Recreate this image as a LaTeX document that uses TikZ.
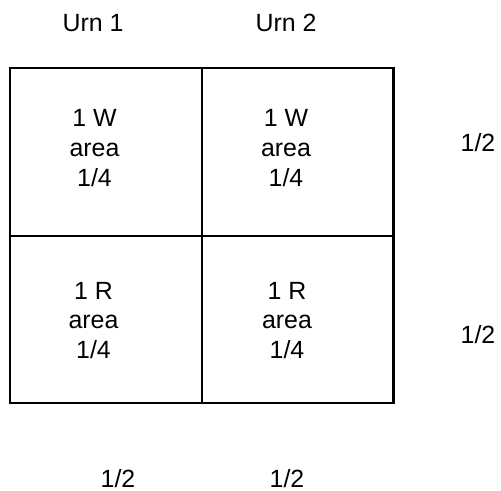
\documentclass[tikz,border=0pt]{standalone}
\usepackage{fontspec}
\setmainfont{Liberation Sans}
\begin{document}
\begin{tikzpicture}[x=1bp,y=-1bp,
  lbl/.style={inner sep=0pt,font=\fontsize{25}{30}\selectfont,text=black},
  celltxt/.style={lbl,align=center,anchor=north},
  frame/.style={draw=black,line width=2.2bp},
  divider/.style={draw=black,line width=2bp}]
\useasboundingbox[fill=white] (0,0) rectangle (501,491);
% grid
\coordinate (tl) at (10.2,67.8);
\coordinate (br) at (393.5,403);
\coordinate (mt) at (202.3,67.8);
\coordinate (mb) at (202.3,403);
\coordinate (ml) at (10.2,235.5);
\coordinate (mr) at (393.5,235.5);
\draw[divider] (mt) -- (mb);
\draw[divider] (ml) -- (mr);
\draw[frame] (tl) rectangle (br);
% headings
\node[lbl,anchor=base] (urn1) at (93,31.7) {Urn 1};
\node[lbl,anchor=base] (urn2) at (286,31.7) {Urn 2};
% cells
\node[celltxt] (c11) at (94.5,109) {1 W\\area\\1/4};
\node[celltxt] (c12) at (286,109) {1 W\\area\\1/4};
\node[celltxt] (c21) at (93.5,281.7) {1 R\\area\\1/4};
\node[celltxt] (c22) at (287,281.7) {1 R\\area\\1/4};
% marginal probabilities
\node[lbl,anchor=base] (r1) at (478,151.7) {1/2};
\node[lbl,anchor=base] (r2) at (478,343) {1/2};
\node[lbl,anchor=base] (b1) at (118,487) {1/2};
\node[lbl,anchor=base] (b2) at (287,487) {1/2};
\end{tikzpicture}
\end{document}
